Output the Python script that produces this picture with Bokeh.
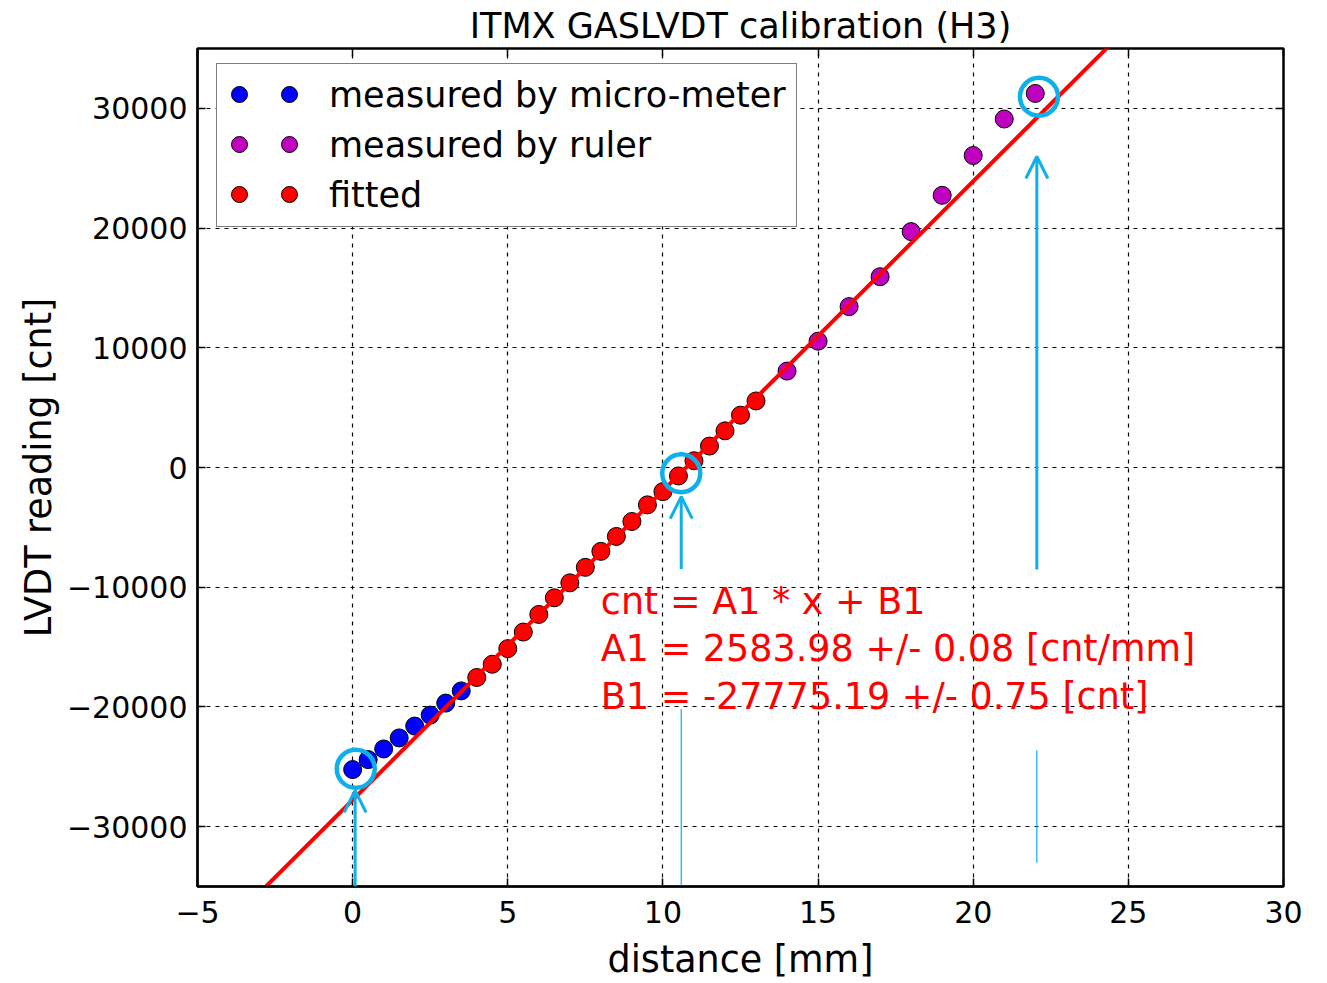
from bokeh.plotting import figure
from bokeh.models import (Range1d, FixedTicker, LinearAxis, Legend, LegendItem,
                          Arrow, OpenHead)
from bokeh.core.properties import value
from bokeh.embed import file_html
from bokeh.resources import INLINE
import numpy as np

# ---------------- data ----------------
blue_x = [0, 0.5, 1.0, 1.5, 2.0, 2.5, 3.0, 3.5]
blue_y = [-25230, -24400, -23510, -22590, -21600, -20680, -19680, -18660]

red_x = [4.0, 4.5, 5.0, 5.5, 6.0, 6.5, 7.0, 7.5, 8.0, 8.5, 9.0, 9.5,
         10.0, 10.5, 11.0, 11.5, 12.0, 12.5, 13.0]
red_y = [-17540, -16435, -15130, -13745, -12275, -10885, -9635, -8340,
         -7005, -5760, -4510, -3120, -2015, -705, 565, 1790, 3062, 4369, 5559]

purple_x = [14, 15, 16, 17, 18, 19, 20, 21, 22]
purple_y = [8055, 10552, 13439, 15936, 19705, 22735, 26063, 29110, 31247]

series_labels = ["measured by micro-meter", "measured by ruler", "fitted"]

A1 = 2583.98
B1 = -27775.19
fit_x_range = [-5, 30]

x_ticks = [-5, 0, 5, 10, 15, 20, 25, 30]
x_tick_labels = ["\u22125", "0", "5", "10", "15", "20", "25", "30"]
y_ticks = [-30000, -20000, -10000, 0, 10000, 20000, 30000]
y_tick_labels = ["\u221230000", "\u221220000", "\u221210000", "0", "10000", "20000", "30000"]

formula_lines = ["cnt = A1 * x + B1",
                 "A1 = 2583.98 +/- 0.08 [cnt/mm]",
                 "B1 = -27775.19 +/- 0.75 [cnt]"]
formula_x = [8.0, 8.0, 8.0]
formula_y = [-11200, -15150, -19100]

# highlight annotations (circles, arrows, thin lines)
hl_x = [0.1, 10.59, 22.12]
hl_y = [-25170, -480, 30970]
arrow_x = [0.08, 10.59, 22.05]
arrow_y0 = [-35000, -8470, -8530]
arrow_y1 = [-26980, -2430, 25980]
thin_x = [10.59, 22.05]
thin_y0 = [-20180, -23610]
thin_y1 = [-35000, -33020]

FONT = "DejaVu Sans"
CYAN = "#0EB0EC"

p = figure(width=1320, height=983, output_backend="svg", toolbar_location=None,
           x_range=Range1d(-5, 30), y_range=Range1d(-35000, 35000),
           min_border_left=197, min_border_right=37, min_border_top=47,
           min_border_bottom=96, title="ITMX GASLVDT calibration (H3)")

p.title.text_font = FONT
p.title.text_font_size = "35px"
p.title.text_font_style = "normal"
p.title.text_color = "black"
p.title.align = "center"
p.title.standoff = 6

p.outline_line_color = "black"
p.outline_line_width = 2.5
p.background_fill_color = "white"

xt = FixedTicker(ticks=x_ticks)
yt = FixedTicker(ticks=y_ticks)

for ax in (p.xaxis[0], p.yaxis[0]):
    ax.major_tick_in = 8
    ax.major_tick_out = 0
    ax.minor_tick_line_color = None
    ax.major_tick_line_width = 1.5
    ax.axis_line_width = 2
    ax.major_label_text_font = FONT
    ax.major_label_text_font_size = "30px"
    ax.major_label_text_color = "black"
    ax.axis_label_text_font = FONT
    ax.axis_label_text_font_size = "36.5px"
    ax.axis_label_text_font_style = "normal"
    ax.axis_label_text_color = "black"

p.xaxis[0].ticker = xt
p.yaxis[0].ticker = yt
p.xaxis[0].major_label_overrides = dict(zip(x_ticks, x_tick_labels))
p.yaxis[0].major_label_overrides = dict(zip(y_ticks, y_tick_labels))
p.xaxis[0].axis_label = "distance [mm]"
p.yaxis[0].axis_label = "LVDT reading [cnt]"
p.xaxis[0].major_label_standoff = 14
p.xaxis[0].axis_label_standoff = 12
p.yaxis[0].major_label_standoff = 10
p.yaxis[0].axis_label_standoff = 4

for loc, tk, ticks in (("above", xt, x_ticks), ("right", yt, y_ticks)):
    a = LinearAxis(ticker=tk, major_tick_in=8, major_tick_out=0,
                   major_tick_line_width=1.5,
                   minor_tick_line_color=None, axis_line_color=None,
                   major_label_overrides={t: "" for t in ticks},
                   major_label_standoff=0)
    p.add_layout(a, loc)

p.xgrid.ticker = xt
p.ygrid.ticker = yt
p.grid.grid_line_color = "black"
p.grid.grid_line_width = 1.2
p.grid.grid_line_dash = "4 5"

# data points
rb = p.scatter(blue_x, blue_y, size=18, marker="circle", fill_color="#0000FF",
               line_color="black", line_width=1)
rp = p.scatter(purple_x, purple_y, size=18, marker="circle", fill_color="#BF00BF",
               line_color="black", line_width=1)
rr = p.scatter(red_x, red_y, size=18, marker="circle", fill_color="#FF0000",
               line_color="black", line_width=1)

# fit line
fx = np.array(fit_x_range, dtype=float)
p.line(fx, A1 * fx + B1, line_color="#FF0000", line_width=4)

# formula text
p.text(x=formula_x, y=formula_y, text=formula_lines, text_color="#FF0000",
       text_font=value(FONT), text_font_size="36.5px",
       text_baseline="alphabetic", text_align="left")

# highlight annotations
p.scatter(hl_x, hl_y, marker="circle", size=38, fill_alpha=0,
          line_color=CYAN, line_width=4.5)
for xa, y0, y1 in zip(arrow_x, arrow_y0, arrow_y1):
    p.add_layout(Arrow(end=OpenHead(line_color=CYAN, line_width=3, size=22),
                       x_start=xa, y_start=y0, x_end=xa, y_end=y1,
                       line_color=CYAN, line_width=3))
p.segment(x0=thin_x, y0=thin_y0, x1=thin_x, y1=thin_y1, line_color=CYAN,
          line_width=1.2)

# ---- legend: text legend with framed box, plus two glyph-only legends ----
FRAME_H = 840
PAD, GH, LH, SP = 10, 42, 42, 8
LEG_H = 2 * PAD + 3 * max(GH, LH) + 2 * SP
leg_y = FRAME_H - 19 - LEG_H

dummy = [p.scatter([], [], marker="circle", size=1, fill_alpha=0, line_alpha=0)
         for _ in series_labels]

def common(lg):
    lg.padding = PAD
    lg.glyph_height = GH
    lg.label_height = LH
    lg.spacing = SP
    lg.label_text_font = FONT
    lg.label_text_font_size = "35px"
    lg.label_text_color = "black"
    lg.margin = 0

legend = Legend(items=[LegendItem(label=t, renderers=[d])
                       for t, d in zip(series_labels, dummy)],
                location=(19, leg_y))
common(legend)
legend.glyph_width = 92
legend.label_standoff = 10
legend.border_line_color = "black"
legend.border_line_width = 1.5
legend.background_fill_alpha = 1.0
p.add_layout(legend, "center")

for gx in (240 - 197, 290 - 197):
    g = Legend(items=[LegendItem(label=" ", renderers=[r]) for r in (rb, rp, rr)],
               location=(gx - PAD - 20 + 9, leg_y + 12))
    common(g)
    g.glyph_width = 40
    g.label_standoff = 0
    g.border_line_color = None
    g.background_fill_alpha = 0
    p.add_layout(g, "center")

open("out.html", "w").write(file_html(p, INLINE))
